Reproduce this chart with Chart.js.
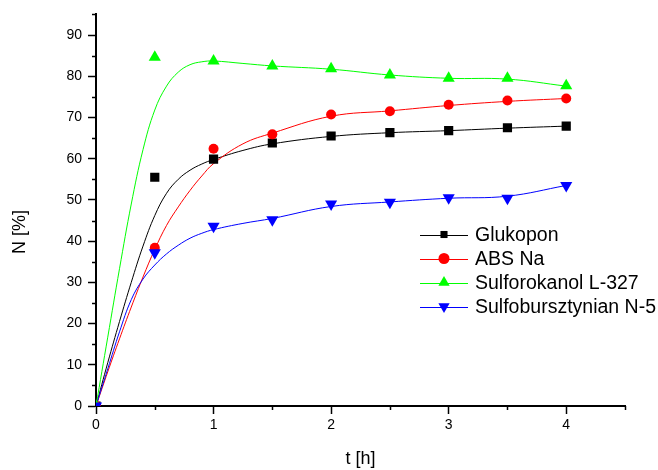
<!DOCTYPE html>
<html>
<head>
<meta charset="utf-8">
<script src="https://cdn.jsdelivr.net/npm/chart.js@4.4.1/dist/chart.umd.min.js"></script>
<style>
  html, body { margin: 0; padding: 0; background: #fff; }
</style>
</head>
<body>
<canvas id="chart" width="658" height="470"></canvas>
<script>
// Measured points, t [h]
const tHours = [0, 0.5, 1, 1.5, 2, 2.5, 3, 3.5, 4];
const glukopon = [0, 55.5, 59.9, 63.8, 65.5, 66.3, 66.8, 67.5, 67.9];
const absNa = [0, 38.4, 62.4, 65.9, 70.7, 71.5, 73.1, 74.1, 74.6];
const sulforokanol = [0, 84.6, 83.7, 82.5, 81.8, 80.3, 79.5, 79.5, 77.7];
const sulfobursztynian = [0, 37.2, 43.6, 45.2, 49.0, 49.4, 50.5, 50.4, 53.5];

// Fitted curves
const curveT = [0, 0.1, 0.2, 0.3, 0.4, 0.5, 0.6, 0.7, 0.8, 0.9, 1, 1.25, 1.5, 2, 2.5, 3, 3.5, 4];
const glukoponCurve = [0, 10.5, 20.5, 30, 38.8, 46.2, 51.6, 55, 57.2, 58.7, 59.8, 62, 63.6, 65.4, 66.3, 66.8, 67.4, 67.9];
const absNaCurve = [0, 8.3, 16.3, 24, 31.3, 38, 43.8, 48.3, 52.3, 55.8, 58.8, 63.6, 66.2, 70.3, 71.6, 72.9, 73.9, 74.6];
const sulforokanolCurve = [0, 16.7, 33.3, 49, 62.2, 71.8, 77.6, 81, 82.8, 83.5, 83.7, 83.1, 82.5, 81.7, 80.3, 79.5, 79.3, 77.6];
const sulfobursztynianCurve = [0, 9, 18, 25.8, 30.8, 34.2, 36.9, 39, 40.7, 41.9, 42.8, 44.3, 45.5, 48.4, 49.5, 50.4, 50.9, 53.5];

const seriesNames = ['Glukopon', 'ABS Na', 'Sulforokanol L-327', 'Sulfobursztynian N-5'];
const seriesColors = ['#000000', '#ff0000', '#00ff00', '#0000ff'];

const xTitle = 't [h]';
const yTitle = 'N [%]';

const FONT = '"Liberation Sans", Arial, sans-serif';

function toXY(xs, ys) {
    return xs.map((x, i) => ({ x: x, y: ys[i] }));
}

// marker styles for each series (plot / legend)
const markers = [
    { style: 'rect', r: 6.5, rot: 0, lr: 5 },
    { style: 'circle', r: 5, rot: 0, lr: 5.5 },
    { style: 'triangle', r: 7, rot: 0, lr: 6.5 },
    { style: 'triangle', r: 7, rot: 180, lr: 6.5 }
];

const pointSets = [glukopon, absNa, sulforokanol, sulfobursztynian];
const curveSets = [glukoponCurve, absNaCurve, sulforokanolCurve, sulfobursztynianCurve];

const datasets = [];
// curves first (drawn under the markers)
curveSets.forEach((c, i) => {
    datasets.push({
        label: seriesNames[i] + ' fit',
        data: toXY(curveT, c),
        showLine: true,
        borderColor: seriesColors[i],
        borderWidth: 1,
        pointRadius: 0,
        tension: 0.4,
        order: 20 - i
    });
});
// markers; blue ends up on top
pointSets.forEach((p, i) => {
    datasets.push({
        label: seriesNames[i],
        data: toXY(tHours, p),
        showLine: false,
        pointStyle: markers[i].style,
        pointRadius: markers[i].r,
        pointRotation: markers[i].rot,
        backgroundColor: seriesColors[i],
        borderColor: seriesColors[i],
        borderWidth: 0,
        order: 10 - i
    });
});

// minor ticks, axis titles and the legend box
const extrasPlugin = {
    id: 'extras',
    afterDraw(chart) {
        const ctx = chart.ctx;
        const xs = chart.scales.x;
        const ys = chart.scales.y;
        const area = chart.chartArea;

        ctx.save();
        ctx.strokeStyle = '#000';
        ctx.lineWidth = 1.5;
        ys.ticks.forEach(t => {
            if (t.value % 10 !== 0) {
                const py = Math.round(ys.getPixelForValue(t.value)) + 0.5;
                ctx.beginPath();
                ctx.moveTo(area.left - 4, py);
                ctx.lineTo(area.left, py);
                ctx.stroke();
            }
        });
        xs.ticks.forEach(t => {
            if (!Number.isInteger(t.value)) {
                const px = Math.round(xs.getPixelForValue(t.value)) + 0.5;
                ctx.beginPath();
                ctx.moveTo(px, area.bottom);
                ctx.lineTo(px, area.bottom + 4);
                ctx.stroke();
            }
        });

        // axis titles
        ctx.fillStyle = '#000';
        ctx.font = '18px ' + FONT;
        ctx.textAlign = 'center';
        ctx.textBaseline = 'middle';
        ctx.fillText(xTitle, (area.left + area.right) / 2, 459);
        ctx.save();
        ctx.translate(20, 232);
        ctx.rotate(-Math.PI / 2);
        ctx.fillText(yTitle, 0, 0);
        ctx.restore();

        // legend
        const rowY = [234.5, 258.5, 282.5, 306.5];
        seriesNames.forEach((name, i) => {
            const y = rowY[i];
            ctx.strokeStyle = seriesColors[i];
            ctx.lineWidth = 1;
            ctx.beginPath();
            ctx.moveTo(420, Math.round(y) + 0.5);
            ctx.lineTo(468, Math.round(y) + 0.5);
            ctx.stroke();
            ctx.fillStyle = seriesColors[i];
            Chart.helpers.drawPoint(ctx, {
                pointStyle: markers[i].style,
                radius: markers[i].lr,
                rotation: markers[i].rot,
                borderWidth: 0
            }, 444, y);
            ctx.fillStyle = '#000';
            ctx.textAlign = 'left';
            ctx.textBaseline = 'middle';
            ctx.font = '19.5px ' + FONT;
            ctx.fillText(name, 475, y + 1);
        });
        ctx.restore();
    }
};

const ctx = document.getElementById('chart').getContext('2d');
const chart = new Chart(ctx, {
    type: 'scatter',
    data: { datasets: datasets },
    plugins: [extrasPlugin],
    options: {
        responsive: false,
        animation: false,
        layout: { padding: { left: 0, top: 13, right: 33, bottom: 0 } },
        plugins: {
            legend: { display: false },
            tooltip: { enabled: false }
        },
        scales: {
            x: {
                type: 'linear',
                min: 0,
                max: 4.5,
                afterFit: s => { s.height = 64; },
                border: { display: true, color: '#000', width: 2 },
                grid: {
                    drawOnChartArea: false,
                    drawTicks: true,
                    tickLength: 8,
                    tickWidth: 1.5,
                    tickColor: c => Number.isInteger(c.tick.value) ? '#000' : 'rgba(0,0,0,0)'
                },
                ticks: {
                    stepSize: 0.5,
                    autoSkip: false,
                    maxRotation: 0,
                    padding: 3,
                    color: '#000',
                    font: { family: FONT, size: 14 },
                    callback: v => Number.isInteger(v) ? String(v) : ''
                }
            },
            y: {
                type: 'linear',
                min: 0,
                max: 95,
                afterFit: s => { s.width = 96; },
                border: { display: true, color: '#000', width: 2 },
                grid: {
                    drawOnChartArea: false,
                    drawTicks: true,
                    tickLength: 8,
                    tickWidth: 1.5,
                    tickColor: c => c.tick.value % 10 === 0 ? '#000' : 'rgba(0,0,0,0)'
                },
                ticks: {
                    stepSize: 5,
                    autoSkip: false,
                    padding: 6,
                    color: '#000',
                    font: { family: FONT, size: 14 },
                    callback: v => v % 10 === 0 ? String(v) : ''
                }
            }
        }
    }
});
</script>
</body>
</html>
